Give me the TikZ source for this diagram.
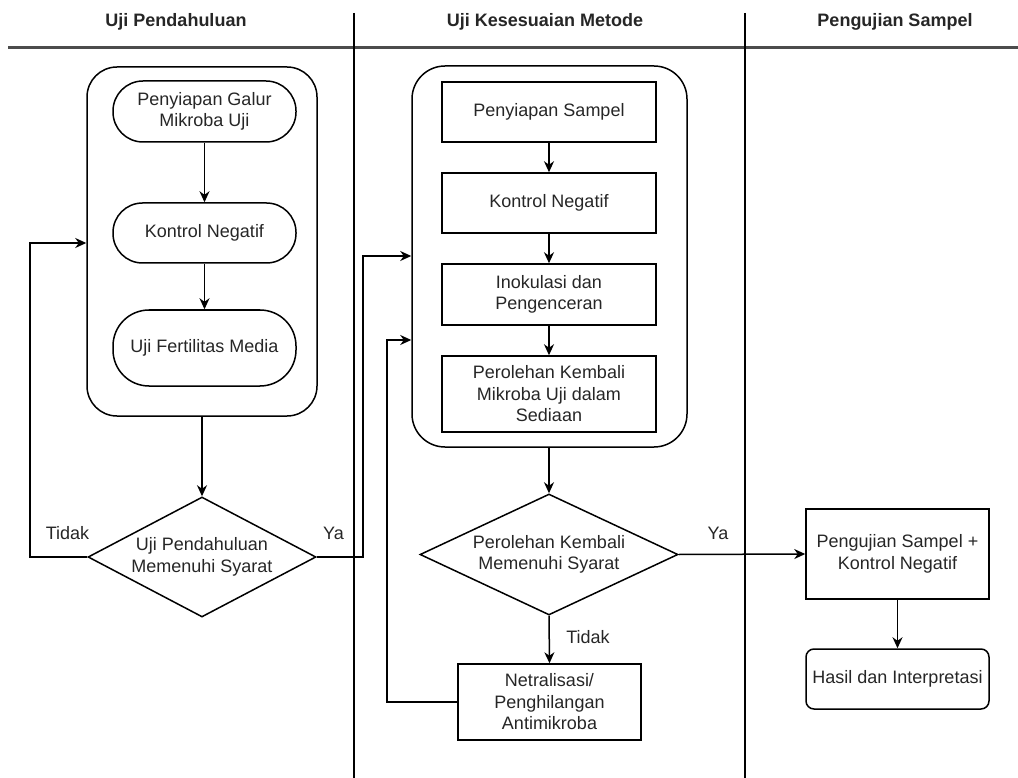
\documentclass[tikz,border=0pt]{standalone}
\usepackage{fontspec}
\setmainfont{Liberation Sans}
\usetikzlibrary{shapes.geometric,arrows.meta,calc}
\begin{document}
\begin{tikzpicture}[x=1pt,y=-1pt,
  every node/.style={font=\fontsize{18}{21.5}\selectfont, text=black!85, align=center, inner sep=0pt},
  hdr/.style={font=\fontsize{18}{21.5}\selectfont\bfseries, anchor=base},
  cont/.style={draw, line width=1.5pt, rounded corners=#1},
  stad/.style={draw, line width=1.5pt, minimum width=183pt, rounded corners=#1},
  box/.style={draw, line width=1.5pt},
  dia/.style={draw, shape=diamond, aspect=2, line width=1.5pt},
  arr/.style={-{Stealth[length=11pt,width=10pt,inset=3.5pt]}, line width=1.5pt},
  lbl/.style={font=\fontsize{18}{21.5}\selectfont}
]
\useasboundingbox (0,0) rectangle (1018,778);

% lanes
\draw[line width=3pt, black!70] (8,48) -- (1018,48);
\draw[line width=1.4pt] (354,13) -- (354,778);
\draw[line width=1.4pt] (745,13) -- (745,778);
\node[hdr] (h1) at (176,27) {Uji Pendahuluan};
\node[hdr] (h2) at (545,27) {Uji Kesesuaian Metode};
\node[hdr] (h3) at (895,27) {Pengujian Sampel};

% lane 1
\node[cont=30pt, minimum width=230pt, minimum height=349pt] (c1) at (202,241.5) {};
\node[stad=30pt, minimum height=61pt] (n1) at (204.5,111.5) {Penyiapan Galur\\Mikroba Uji};
\node[stad=29.5pt, minimum height=60pt] (n2) at (204.5,233) {Kontrol Negatif};
\node[stad=36pt, minimum height=76pt] (n3) at (204.5,348) {Uji Fertilitas Media};
\node[dia, minimum width=228pt, minimum height=120pt] (d1) at (202,557) {Uji Pendahuluan\\Memenuhi Syarat};

\draw[arr] (n1.south) -- (n2.north);
\draw[arr] (n2.south) -- (n3.north);
\draw[arr] (c1.south -| d1.north) -- (d1.north);

\coordinate (tA) at (30,243);
\draw[arr] (d1.west) -| (tA) -- (tA -| c1.west);
\node[lbl] (lt1) at (67.5,533) {Tidak};

% lane 2
\node[cont=33pt, minimum width=275pt, minimum height=381pt] (c2) at (549.5,256.5) {};
\node[box, minimum width=214pt, minimum height=60pt] (m1) at (549,112) {Penyiapan Sampel};
\node[box, minimum width=214pt, minimum height=60pt] (m2) at (549,203) {Kontrol Negatif};
\node[box, minimum width=214pt, minimum height=61pt] (m3) at (549,294.5) {Inokulasi dan\\Pengenceran};
\node[box, minimum width=214pt, minimum height=76pt] (m4) at (549,394) {Perolehan Kembali\\Mikroba Uji dalam\\Sediaan};
\node[dia, minimum width=258pt, minimum height=121pt] (d2) at (549,554.5) {Perolehan Kembali\\Memenuhi Syarat};
\node[box, minimum width=183pt, minimum height=76pt] (nt) at (549.5,702) {Netralisasi/\\Penghilangan\\Antimikroba};

\draw[arr] (m1.south) -- (m2.north);
\draw[arr] (m2.south) -- (m3.north);
\draw[arr] (m3.south) -- (m4.north);
\draw[arr] (c2.south -| d2.north) -- (d2.north);
\draw[arr] (d2.south) -- (nt.north);
\node[lbl] (lt2) at (588,637) {Tidak};

\coordinate (yA) at (363,256);
\draw[arr] (d1.east) -| (yA) -- (yA -| c2.west);
\node[lbl] (ly1) at (333.5,533) {Ya};

\coordinate (tB) at (387,340);
\draw[arr] (nt.west) -| (tB) -- (tB -| c2.west);

% lane 3
\node[box, minimum width=183pt, minimum height=90pt] (p1) at (897.5,554) {Pengujian Sampel +\\Kontrol Negatif};
\node[box, rounded corners=8pt, minimum width=183pt, minimum height=60pt] (p2) at (897.5,679) {Hasil dan Interpretasi};
\draw[arr] (d2.east) -- (p1.west);
\node[lbl] (ly2) at (718,533) {Ya};
\draw[arr] (p1.south) -- (p2.north);
\end{tikzpicture}
\end{document}
